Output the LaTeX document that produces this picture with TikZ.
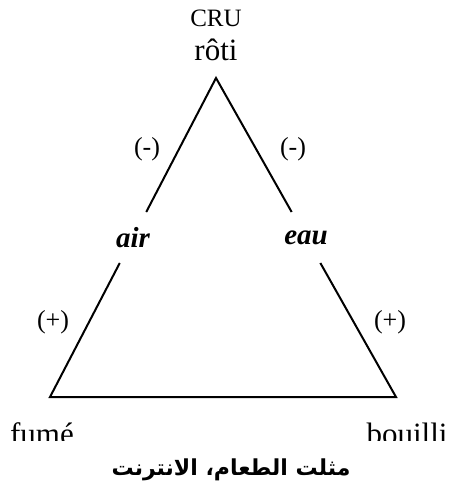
\documentclass[tikz,border=0pt]{standalone}
\usepackage{fontspec}
\setmainfont{Liberation Serif}
\newfontfamily\arabicfont[Script=Arabic]{DejaVu Sans}
\TeXXeTstate=1
\usetikzlibrary{calc}

\begin{document}
\begin{tikzpicture}[x=1pt, y=-1pt, line width=2pt,
  vx/.style={inner sep=0pt, anchor=base, font=\fontsize{31}{31}\selectfont},
  sg/.style={inner sep=0pt, font=\fontsize{26}{26}\selectfont},
  md/.style={inner sep=2pt, minimum height=49pt, font=\fontsize{29}{29}\selectfont\bfseries\itshape}]
\useasboundingbox (0,0) rectangle (451,487);
% corners of the triangle
\coordinate (top) at (216,78);
\coordinate (left) at (50,397);
\coordinate (right) at (396,397);
\node[md] (air) at ($(top)!0.5!(left)$) {air};
\node[md] (eau) at ($(top)!0.5!(right)$) {eau};
\draw (air) -- (top) -- (eau);
\draw (air) -- (left) -- (right) -- (eau);
% apex
\node[vx, font=\fontsize{25}{25}\selectfont] (cru) at (216,27) {CRU};
\node[vx] (roti) at (216,60) {rôti};
% signs
\node[sg] (minusL) at (147,149) {(-)};
\node[sg] (minusR) at (293,149) {(-)};
\node[sg] (plusL) at (53,322) {(+)};
\node[sg] (plusR) at (390,322) {(+)};
% bottom words, cut off as in the scan
\begin{scope}
  \clip (0,0) rectangle (451,440);
  \node[vx] (fume) at (42,444) {fumé};
  \node[vx] (bouilli) at (407,444) {bouilli};
\end{scope}
\node[inner sep=0pt, font=\fontsize{22}{22}\selectfont\arabicfont\bfseries] (caption) at (231,470) {\beginR مثلت الطعام، الانترنت\endR};
\end{tikzpicture}
\end{document}
